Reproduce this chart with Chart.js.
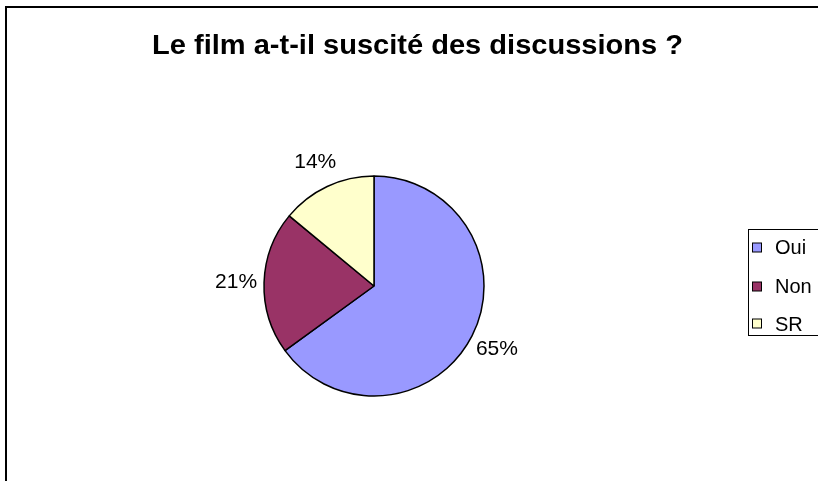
<!DOCTYPE html>
<html>
<head>
<meta charset="utf-8">
<script src="https://cdn.jsdelivr.net/npm/chart.js@4"></script>
<style>
html,body{margin:0;padding:0;background:#fff;}
#wrap{width:818px;height:481px;position:relative;}
</style>
</head>
<body>
<div id="wrap"><canvas id="c" width="818" height="481"></canvas></div>
<script>
const titleText = "Le film a-t-il suscité des discussions ?";
const categories = ["Oui", "Non", "SR"];
const values = [65, 21, 14];
const percentLabels = ["65%", "21%", "14%"];
const colors = ["#9999FF", "#993366", "#FFFFCC"];

const FONT = '"Liberation Sans", Arial, sans-serif';

function fitText(ctx, text, x, y, targetW) {
  const w = ctx.measureText(text).width;
  const s = targetW / w;
  ctx.save();
  ctx.translate(x, y);
  ctx.scale(s, 1);
  ctx.textAlign = 'left';
  ctx.textBaseline = 'alphabetic';
  ctx.fillText(text, 0, 0);
  ctx.restore();
}

const decor = {
  id: 'decor',
  beforeDraw(chart) {
    const ctx = chart.ctx;
    ctx.save();
    ctx.fillStyle = '#fff';
    ctx.fillRect(0, 0, chart.width, chart.height);
    ctx.strokeStyle = '#000';
    ctx.lineWidth = 2;
    ctx.beginPath();
    ctx.moveTo(6, chart.height + 2);
    ctx.lineTo(6, 7);
    ctx.lineTo(chart.width + 2, 7);
    ctx.stroke();
    ctx.restore();
  },
  afterDraw(chart) {
    const ctx = chart.ctx;
    ctx.save();
    // title
    ctx.fillStyle = '#000';
    ctx.font = 'bold 27px ' + FONT;
    fitText(ctx, titleText, 152, 54, 531);
    // percent labels
    const meta = chart.getDatasetMeta(0);
    ctx.font = '21px ' + FONT;
    meta.data.forEach((arc, i) => {
      const p = arc.getProps(['x', 'y', 'startAngle', 'endAngle', 'outerRadius'], true);
      const mid = (p.startAngle + p.endAngle) / 2;
      const r = p.outerRadius + 28;
      const x = p.x + Math.cos(mid) * r;
      const y = p.y + Math.sin(mid) * r;
      ctx.textAlign = 'center';
      ctx.textBaseline = 'alphabetic';
      ctx.fillText(percentLabels[i], x, y + 6.5);
    });
    // legend
    ctx.strokeStyle = '#000';
    ctx.lineWidth = 1;
    ctx.strokeRect(748.5, 229.5, 120, 106);
    const ys = [247.5, 286.5, 323.5];
    const bases = [254, 293, 331];
    categories.forEach((c, i) => {
      ctx.fillStyle = colors[i];
      ctx.fillRect(752.5, ys[i] - 4.5, 9, 9);
      ctx.strokeRect(752.5, ys[i] - 4.5, 9, 9);
      ctx.fillStyle = '#000';
      ctx.textAlign = 'left';
      ctx.textBaseline = 'alphabetic';
      ctx.font = '20px ' + FONT;
      ctx.fillText(c, 775, bases[i]);
    });
    ctx.restore();
  }
};

new Chart(document.getElementById('c'), {
  type: 'pie',
  data: {
    labels: categories,
    datasets: [{
      data: values,
      backgroundColor: colors,
      borderColor: '#000',
      borderWidth: 1.5
    }]
  },
  options: {
    responsive: false,
    animation: false,
    radius: 110,
    layout: { padding: { left: 214, right: 284, top: 126, bottom: 35 } },
    plugins: {
      legend: { display: false },
      tooltip: { enabled: false },
      title: { display: false }
    }
  },
  plugins: [decor]
});
</script>
</body>
</html>
